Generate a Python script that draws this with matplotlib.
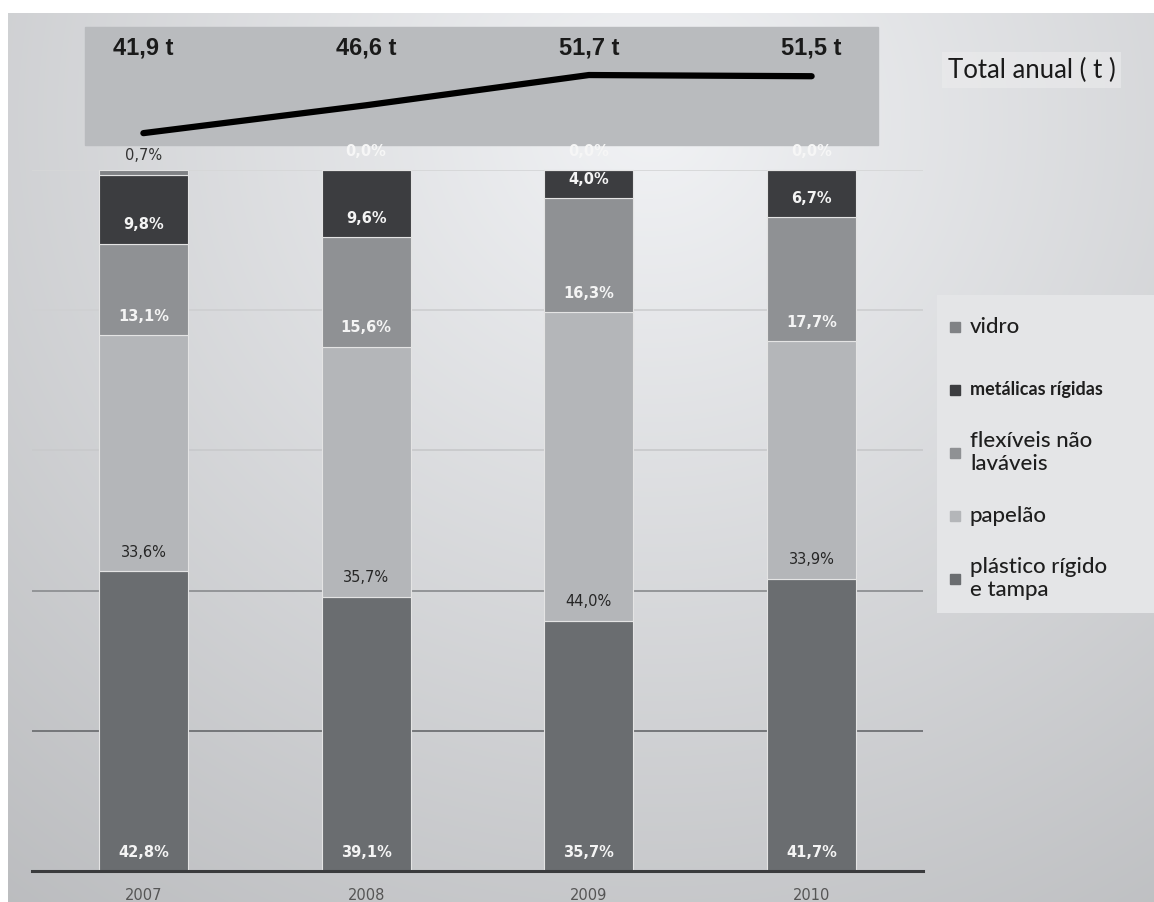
import numpy as np
import matplotlib
matplotlib.use('Agg')
import matplotlib.pyplot as plt

anos = ['2007', '2008', '2009', '2010']
totais = [41.9, 46.6, 51.7, 51.5]  # total anual (t)

# composição percentual de cada ano, de baixo para cima
plastico = [42.8, 39.1, 35.7, 41.7]
papelao = [33.6, 35.7, 44.0, 33.9]
flexiveis = [13.1, 15.6, 16.3, 17.7]
metalicas = [9.8, 9.6, 4.0, 6.7]
vidro = [0.7, 0.0, 0.0, 0.0]

categorias = ['plástico rígido\ne tampa', 'papelão', 'flexíveis não\nlaváveis',
              'metálicas rígidas', 'vidro']
cores = ['#6a6d70', '#b4b6b9', '#8f9194', '#3c3d40', '#808285']
cor_rotulo = ['#f4f4f4', '#262626', '#f4f4f4', '#f4f4f4', '#333333']

W, H = 1154, 902
fig = plt.figure(figsize=(W / 100, H / 100), dpi=100)


def caixa(x0, y0, x1, y1):
    # caixa em pixels (origem no canto superior esquerdo) -> retângulo da figura
    return [x0 / W, 1 - y1 / H, (x1 - x0) / W, (y1 - y0) / H]


# fundo cinza em degradê
bg = fig.add_axes([0, 0, 1, 1], zorder=-10)
yy, xx = np.mgrid[0:H, 0:W]
d = np.hypot((xx - 650) / 950, (yy - 120) / 900)
v = 0.945 - 0.19 * d
img = np.dstack([v, v + 0.005, v + 0.015]).clip(0, 1)
img[:13, :] = 1
img[:, :8] = 1
bg.imshow(img, aspect='auto', interpolation='bilinear')
bg.axis('off')

# barras empilhadas
ax = fig.add_axes(caixa(32, 170, 923, 871))
ax.set_xlim(-0.5, 3.5)
ax.set_ylim(0, 100)
ax.patch.set_alpha(0)
for s in ax.spines.values():
    s.set_visible(False)

for nivel, cor in zip([20, 40, 60, 80, 100],
                      ['#6e7073', '#8e9093', '#c9cacc', '#cfd0d2', '#d6d7d8']):
    ax.axhline(nivel, color=cor, lw=1.3, zorder=0)
ax.axhline(0, color='#3a3b3d', lw=2.2, zorder=3, clip_on=False)

x = np.arange(len(anos))
base = np.zeros(len(anos))
series = [plastico, papelao, flexiveis, metalicas, vidro]
for serie, cor, cor_txt in zip(series, cores, cor_rotulo):
    ax.bar(x, serie, 0.40, bottom=base, color=cor, edgecolor='#e4e4e4',
           linewidth=0.8, zorder=2, clip_on=False)
    for xi, b, val in zip(x, base, serie):
        c = cor_txt if val > 0 else '#f6f6f6'
        ax.text(xi, b + 2.7, f'{val:.1f}%'.replace('.', ','), ha='center', va='center',
                color=c, fontsize=10.5, family='DejaVu Sans',
                weight='bold' if c.startswith('#f') else 'normal', zorder=4, clip_on=False)
    base += np.array(serie)

ax.set_xticks(x, anos)
ax.set_yticks([])
ax.tick_params(length=0, pad=12, labelcolor='#555555', labelsize=10.5)

# painel do total anual
fig.add_artist(plt.Rectangle((85 / W, 1 - 145 / H), (878 - 85) / W, (145 - 27) / H,
                             transform=fig.transFigure, color='#b9bbbe', zorder=-5))
ax_top = fig.add_axes(caixa(32, 27, 923, 145))
ax_top.set_xlim(-0.5, 3.5)
ax_top.set_ylim(39.9, 59.8)
ax_top.axis('off')
ax_top.plot(x, totais, color='black', lw=4.5, solid_capstyle='round')
for xi, t in zip(x, totais):
    ax_top.text(xi, 0.82, f'{t:.1f} t'.replace('.', ','), transform=ax_top.get_xaxis_transform(),
                ha='center', va='center', fontsize=17, weight='bold',
                family='Liberation Sans', color='#1a1a1a')

fig.text(948 / W, 1 - 70 / H, 'Total anual ( t )', fontsize=18.5, family='Lato',
         va='center', ha='left', color='#1a1a1a',
         bbox=dict(facecolor='#ececed', edgecolor='none', alpha=0.6, pad=4))

# legenda
ax_leg = fig.add_axes(caixa(937, 295, 1154, 613))
ax_leg.set_facecolor('#e4e5e7')
ax_leg.set_xlim(0, 1)
ax_leg.set_ylim(1, 0)
ax_leg.set_xticks([])
ax_leg.set_yticks([])
for s in ax_leg.spines.values():
    s.set_visible(False)
for i, (nome, cor) in enumerate(zip(categorias[::-1], cores[::-1])):
    yi = 0.10 + 0.198 * i
    ax_leg.plot(0.083, yi, 's', color=cor, ms=6.5)
    negrito = nome == 'metálicas rígidas'
    ax_leg.text(0.152, yi, nome, va='center', ha='left', family='Lato',
                fontsize=13 if negrito else 16, weight='bold' if negrito else 'medium',
                color='#1e1e1e', linespacing=1.2)

fig.savefig('out.png', dpi=100)
